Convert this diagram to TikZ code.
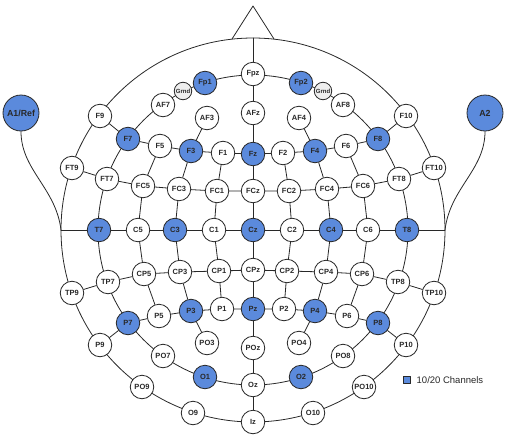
\documentclass[tikz,border=0pt]{standalone}
\usepackage{fontspec}
\setmainfont{Liberation Sans}
\usetikzlibrary{positioning}
\definecolor{chblue}{RGB}{91,138,220}
\definecolor{lnc}{RGB}{40,40,40}
\definecolor{gndgray}{RGB}{238,238,238}
\begin{document}
\begin{tikzpicture}[x=1pt,y=-1pt,line join=round,line cap=round,color=lnc,line width=0.8pt,
	font=\bfseries\fontsize{7.5}{8}\selectfont,
	el/.style={circle,draw=lnc,fill=white,minimum size=23.5pt,inner sep=0pt,line width=0.8pt},
	ch/.style={el,fill=chblue},
	gnd/.style={el,fill=gndgray,minimum size=17.5pt,font=\bfseries\fontsize{6}{6.5}\selectfont},
	earnode/.style={el,fill=chblue,minimum size=36pt,font=\bfseries\fontsize{8.8}{9}\selectfont}]
	\useasboundingbox (0,0) rectangle (514,442);
	% head outline
	\coordinate (C) at (253,230);
	\coordinate (top) at (253,38);
	\coordinate (Lpt) at (61,230);
	\coordinate (Rpt) at (445,230);
	\draw (C) circle (192pt);
	\draw (C) circle (155pt);
	\draw (232,39) -- (253,6) -- (274,39);
	% ears
	\node[earnode] (A1) at (21,113) {A1/Ref};
	\node[earnode] (A2) at (485,113) {A2};
	\draw (A1.south) .. controls (21,170) and (56,188) .. (Lpt);
	\draw (A2.south) .. controls (485,170) and (450,188) .. (Rpt);
	% electrodes
	\node[el] (Fpz) at (253,74) {Fpz};
	\node[ch] (Fp1) at (205,83) {Fp1};
	\node[ch] (Fp2) at (301,83) {Fp2};
	\node[gnd] (GndL) at (183,91) {Grnd};
	\node[gnd] (GndR) at (323,91) {Grnd};
	\node[el] (AF7) at (163,105) {AF7};
	\node[el] (AF8) at (343,105) {AF8};
	\node[el] (AF3) at (207,118) {AF3};
	\node[el] (AF4) at (299,118) {AF4};
	\node[el] (AFz) at (253,113) {AFz};
	\node[el] (F9) at (100,116) {F9};
	\node[el] (F10) at (406,116) {F10};
	\node[ch] (F7) at (128,139) {F7};
	\node[ch] (F8) at (378,139) {F8};
	\node[el] (F5) at (160,146) {F5};
	\node[el] (F6) at (346,146) {F6};
	\node[ch] (F3) at (191,151) {F3};
	\node[ch] (F4) at (315,151) {F4};
	\node[el] (F1) at (223,153) {F1};
	\node[el] (F2) at (283,153) {F2};
	\node[ch] (Fz) at (253,154) {Fz};
	\node[el] (FT9) at (72,168) {FT9};
	\node[el] (FT10) at (434,168) {FT10};
	\node[el] (FT7) at (107,179) {FT7};
	\node[el] (FT8) at (399,179) {FT8};
	\node[el] (FC5) at (143,186) {FC5};
	\node[el] (FC6) at (363,186) {FC6};
	\node[el] (FC3) at (179,189) {FC3};
	\node[el] (FC4) at (327,189) {FC4};
	\node[el] (FC1) at (217,191) {FC1};
	\node[el] (FC2) at (289,191) {FC2};
	\node[el] (FCz) at (253,191) {FCz};
	\node[ch] (T7) at (99,230) {T7};
	\node[ch] (T8) at (407,230) {T8};
	\node[el] (C5) at (138,230) {C5};
	\node[el] (C6) at (368,230) {C6};
	\node[ch] (C3) at (175,230) {C3};
	\node[ch] (C4) at (331,230) {C4};
	\node[el] (C1) at (214,230) {C1};
	\node[el] (C2) at (292,230) {C2};
	\node[ch] (Cz) at (253,230) {Cz};
	\node[el] (TP9) at (72,293) {TP9};
	\node[el] (TP10) at (434,293) {TP10};
	\node[el] (TP7) at (108,282) {TP7};
	\node[el] (TP8) at (398,282) {TP8};
	\node[el] (CP5) at (144,274) {CP5};
	\node[el] (CP6) at (362,274) {CP6};
	\node[el] (CP3) at (180,272) {CP3};
	\node[el] (CP4) at (326,272) {CP4};
	\node[el] (CP1) at (219,271) {CP1};
	\node[el] (CP2) at (287,271) {CP2};
	\node[el] (CPz) at (253,270) {CPz};
	\node[el] (P9) at (100,345) {P9};
	\node[el] (P10) at (406,345) {P10};
	\node[ch] (P7) at (128,323) {P7};
	\node[ch] (P8) at (378,323) {P8};
	\node[el] (P5) at (159,316) {P5};
	\node[el] (P6) at (347,316) {P6};
	\node[ch] (P3) at (191,311) {P3};
	\node[ch] (P4) at (315,311) {P4};
	\node[el] (P1) at (222,309) {P1};
	\node[el] (P2) at (284,309) {P2};
	\node[ch] (Pz) at (253,309) {Pz};
	\node[el] (PO7) at (163,356) {PO7};
	\node[el] (PO8) at (343,356) {PO8};
	\node[el] (PO3) at (207,343) {PO3};
	\node[el] (PO4) at (299,343) {PO4};
	\node[el] (POz) at (253,348) {POz};
	\node[ch] (O1) at (205,377) {O1};
	\node[ch] (O2) at (301,377) {O2};
	\node[el] (Oz) at (253,385) {Oz};
	\node[el] (PO9) at (142,387) {PO9};
	\node[el] (PO10) at (364,387) {PO10};
	\node[el] (O9) at (193,413) {O9};
	\node[el] (O10) at (313,413) {O10};
	\node[el] (Iz) at (253,422) {Iz};
	% rows
	\draw (F9) -- (F7) -- (F5) -- (F3) -- (F1) -- (Fz) -- (F2) -- (F4) -- (F6) -- (F8) -- (F10);
	\draw (FT9) -- (FT7) -- (FC5) -- (FC3) -- (FC1) -- (FCz) -- (FC2) -- (FC4) -- (FC6) -- (FT8) -- (FT10);
	\draw (Lpt) -- (T7) -- (C5) -- (C3) -- (C1) -- (Cz) -- (C2) -- (C4) -- (C6) -- (T8) -- (Rpt);
	\draw (TP9) -- (TP7) -- (CP5) -- (CP3) -- (CP1) -- (CPz) -- (CP2) -- (CP4) -- (CP6) -- (TP8) -- (TP10);
	\draw (P9) -- (P7) -- (P5) -- (P3) -- (P1) -- (Pz) -- (P2) -- (P4) -- (P6) -- (P8) -- (P10);
	% columns
	\draw (top) -- (Fpz) -- (AFz) -- (Fz) -- (FCz) -- (Cz) -- (CPz) -- (Pz) -- (POz) -- (Oz) -- (Iz);
	\draw (AF3) -- (F3) -- (FC3) -- (C3) -- (CP3) -- (P3) -- (PO3);
	\draw (AF4) -- (F4) -- (FC4) -- (C4) -- (CP4) -- (P4) -- (PO4);
	\draw (F1) -- (FC1) -- (C1) -- (CP1) -- (P1);
	\draw (F2) -- (FC2) -- (C2) -- (CP2) -- (P2);
	\draw (F5) -- (FC5) -- (C5) -- (CP5) -- (P5);
	\draw (F6) -- (FC6) -- (C6) -- (CP6) -- (P6);
	% legend
	\node[draw=lnc,fill=chblue,line width=1.1pt,minimum size=7.5pt,inner sep=0pt] (key) at (407,380) {};
	\node[right=5pt of key,inner sep=0pt,font=\fontsize{9.5}{11}\selectfont] (keytext) {10/20 Channels};
\end{tikzpicture}
\end{document}
